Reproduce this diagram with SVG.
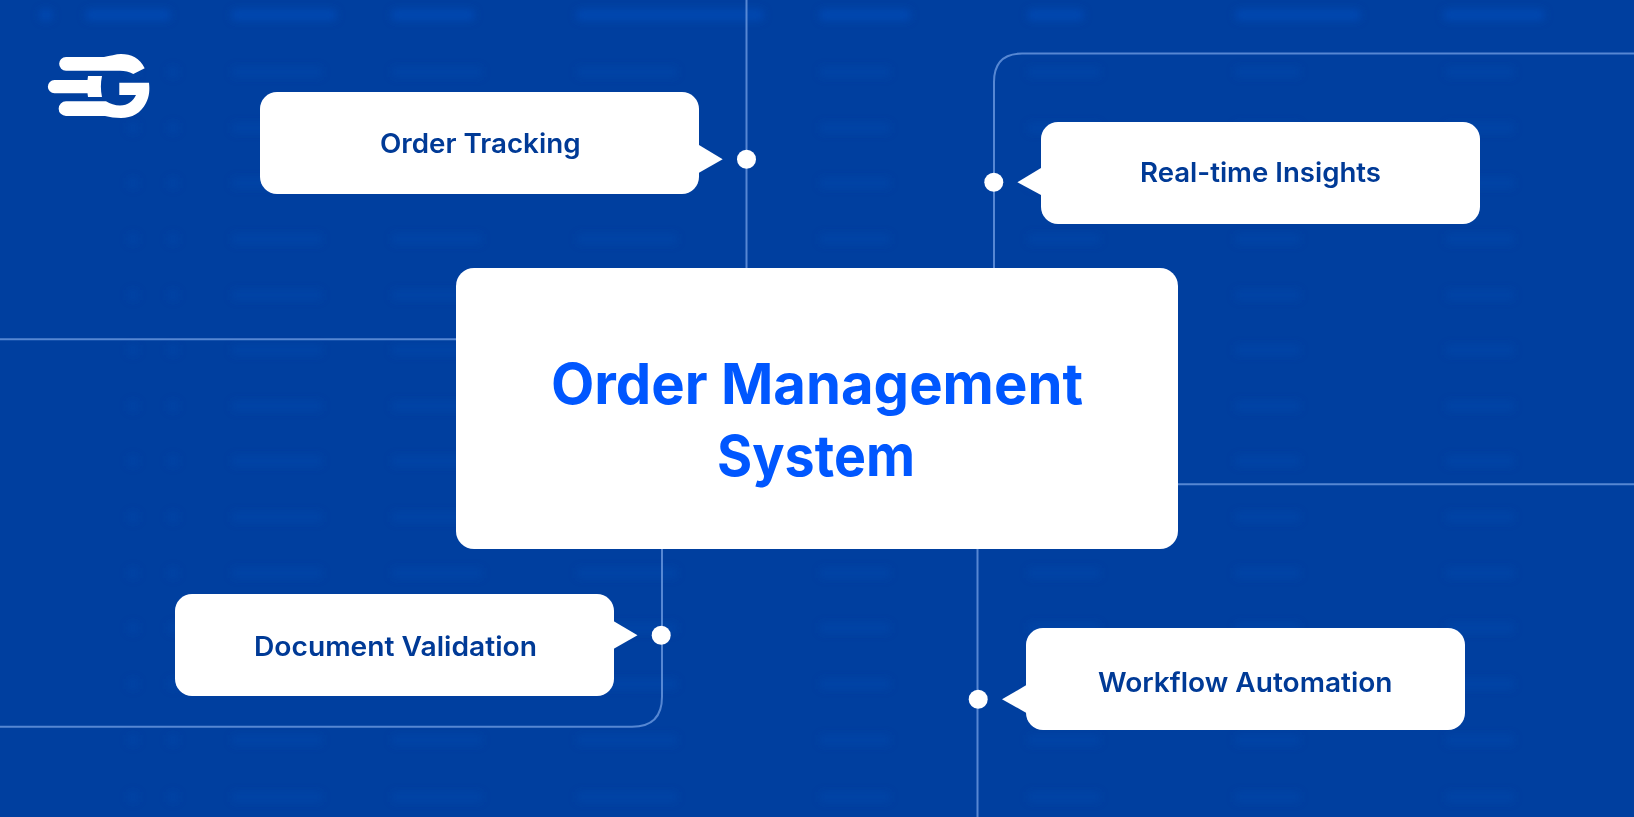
<svg xmlns="http://www.w3.org/2000/svg" width="1634" height="817" viewBox="0 0 1634 817">
<style>
.box{fill:#fff}
.lab{font-family:"Inter","Liberation Sans",sans-serif;font-weight:600;font-size:27px;fill:#003a96}
.title{font-family:"Inter","Liberation Sans",sans-serif;font-weight:700;font-size:56px;fill:#0057ff}
.wire{fill:none;stroke:#6c9ae0;stroke-width:2;stroke-opacity:.8}
.dot{fill:#fff}
.t{fill:#0a55c8}
</style>
<defs>
<filter id="blur" x="-5%" y="-5%" width="110%" height="110%"><feGaussianBlur stdDeviation="4"/></filter>
<g id="row"><rect class="t" x="232" y="-5" width="90" height="10"/><rect class="t" x="392" y="-5" width="90" height="10"/><rect class="t" x="577" y="-5" width="100" height="10"/><rect class="t" x="820" y="-5" width="70" height="10"/><rect class="t" x="1028" y="-5" width="72" height="10"/><rect class="t" x="1235" y="-5" width="65" height="10"/><rect class="t" x="1446" y="-5" width="68" height="10"/><rect class="t" x="128" y="-5" width="10" height="10"/><rect class="t" x="168" y="-5" width="10" height="10"/></g>
</defs>
<rect width="1634" height="817" fill="#003f9f"/>
<g id="background-table" filter="url(#blur)">
<g opacity=".5"><rect class="t" x="40" y="10" width="12" height="10"/><rect class="t" x="86" y="10" width="84" height="10"/><rect class="t" x="232" y="10" width="104" height="10"/><rect class="t" x="392" y="10" width="82" height="10"/><rect class="t" x="577" y="10" width="186" height="10"/><rect class="t" x="820" y="10" width="90" height="10"/><rect class="t" x="1028" y="10" width="55" height="10"/><rect class="t" x="1236" y="10" width="124" height="10"/><rect class="t" x="1444" y="10" width="100" height="10"/></g>
<g opacity=".2">
<use href="#row" y="72"/><use href="#row" y="128"/><use href="#row" y="183"/><use href="#row" y="239"/><use href="#row" y="295"/><use href="#row" y="350"/><use href="#row" y="406"/><use href="#row" y="461"/><use href="#row" y="517"/><use href="#row" y="573"/><use href="#row" y="628"/><use href="#row" y="684"/><use href="#row" y="740"/><use href="#row" y="797"/>
</g>
</g>
<g id="connectors">
<path class="wire" d="M746.5 0V268"/>
<path class="wire" d="M994 268V82Q994 53.5 1022 53.5H1634"/>
<path class="wire" d="M0 339.3H456"/>
<path class="wire" d="M1178 484.3H1634"/>
<path class="wire" d="M662 548V696.7Q662 726.7 632 726.7H0"/>
<path class="wire" d="M977.5 548V817"/>
<circle class="dot" cx="746.5" cy="159.3" r="9.5"/>
<circle class="dot" cx="993.8" cy="182.3" r="9.5"/>
<circle class="dot" cx="661.2" cy="635.3" r="9.5"/>
<circle class="dot" cx="978.2" cy="699.3" r="9.5"/>
</g>
<g id="logo">
<path fill="#fff" d="M66 57H104C110 56 116 54 121 54C131 54 140 58 144.7 68.3L133.3 74C129 71.5 125 70.7 120 70.7H66A6.85 6.85 0 0 1 66 57Z"/>
<path fill="#fff" d="M54.5 80H87.5L88 76H102C100.5 83 100.5 90 102 97H88L87.5 93.3H54.5A6.65 6.65 0 0 1 54.5 80Z"/>
<path fill="#fff" d="M119.3 82.700H149C149.800 90 149.500 96 146 103C141 113 132 118 121 118C115 118 110 117 105 116H66A7.300 7.300 0 0 1 66 101.300H106C110 104 115 105.500 120 105.500C128 105.500 133 101 136 95H119.300Z"/>
</g>
<g id="node-order-tracking">
<rect class="box" x="260" y="92" width="439" height="102" rx="17"/>
<polygon class="box" points="699,145 722.700,159.300 699,172.700"/>
<text class="lab" x="380" y="153.300" textLength="200.500" lengthAdjust="spacingAndGlyphs">Order Tracking</text>
</g>
<g id="node-real-time-insights">
<rect class="box" x="1041" y="122" width="439" height="102" rx="17"/>
<polygon class="box" points="1041,168 1017.400,182.300 1041,195"/>
<text class="lab" x="1140" y="181.700" textLength="241" lengthAdjust="spacingAndGlyphs">Real-time Insights</text>
</g>
<g id="node-document-validation">
<rect class="box" x="175" y="594" width="439" height="102" rx="17"/>
<polygon class="box" points="613.800,621.300 637.500,635.300 613.800,648.700"/>
<text class="lab" x="254" y="655.700" textLength="283" lengthAdjust="spacingAndGlyphs">Document Validation</text>
</g>
<g id="node-workflow-automation">
<rect class="box" x="1026" y="628" width="439" height="102" rx="17"/>
<polygon class="box" points="1026,685.300 1002,699.300 1026,712.700"/>
<text class="lab" x="1098" y="691.800" textLength="294.500" lengthAdjust="spacingAndGlyphs">Workflow Automation</text>
</g>
<g id="node-order-management-system">
<rect class="box" x="456" y="268" width="722" height="281" rx="18"/>
<text class="title" x="551" y="403.700" textLength="532" lengthAdjust="spacingAndGlyphs">Order Management</text>
<text class="title" x="717" y="475.700" textLength="198" lengthAdjust="spacingAndGlyphs">System</text>
</g>
</svg>
